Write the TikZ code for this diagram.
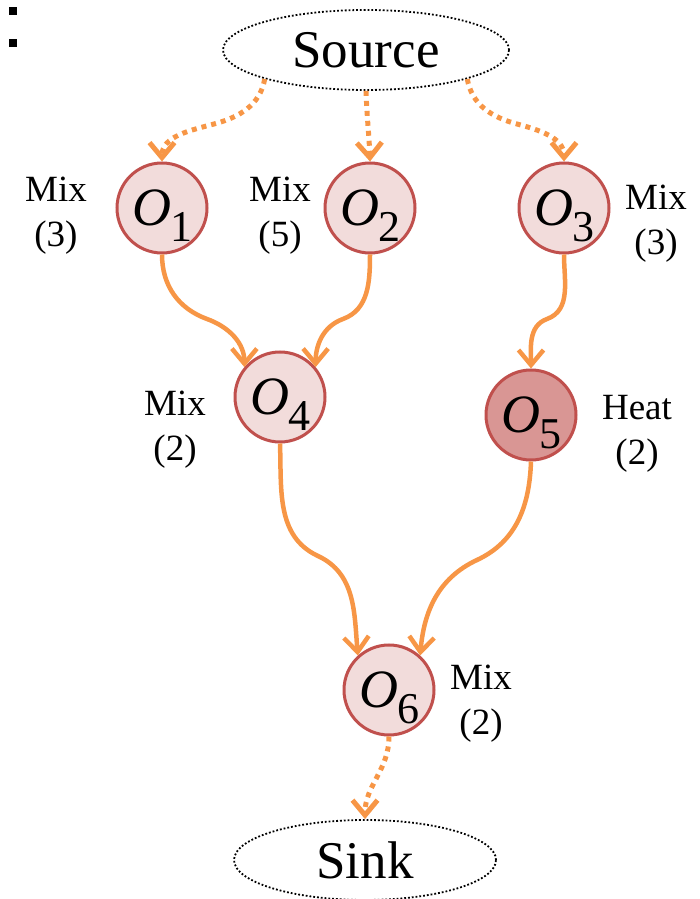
\documentclass[tikz,border=0pt]{standalone}
\usepackage{fontspec}
\setmainfont{Liberation Serif}
\usetikzlibrary{arrows.meta, shapes.geometric}

\definecolor{flowc}{HTML}{F79646}
\definecolor{opline}{HTML}{C0504D}
\definecolor{opfill}{HTML}{F2DCDB}
\definecolor{heatfill}{HTML}{D99694}

% nom d'une operation : O italique + indice
\newcommand{\opname}[1]{{\fontsize{54}{54}\selectfont\textit{O}\kern-1pt\raisebox{-16pt}[0pt][0pt]{\fontsize{44}{44}\selectfont #1}}}

\begin{document}
\begin{tikzpicture}[x=1pt, y=1pt, >={Straight Barb[length=15pt, width=25pt]},
  op/.style={circle, draw=opline, line width=3pt, fill=opfill, minimum size=90pt, inner sep=0pt},
  terminal/.style={ellipse, draw=black, line width=1.8pt, dash pattern=on 1.8pt off 2pt, minimum height=80pt, inner sep=0pt, font=\fontsize{53}{53}\selectfont},
  lbl/.style={align=center, font=\fontsize{37}{45}\selectfont},
  flow/.style={->, draw=flowc, line width=4.5pt},
  dotflow/.style={->, draw=flowc, line width=5pt, dash pattern=on 5pt off 5pt}]

\useasboundingbox (0,0) rectangle (700,899);

% les deux petits carres en haut a gauche
\fill (9,884) rectangle (17,892);
\fill (9,852) rectangle (17,860);

% Source et Sink
\node[terminal, minimum width=286pt] (Src) at (366,849) {Source};
\node[terminal, minimum width=262pt] (Snk) at (365,39) {Sink};

% Les operations
\foreach \n/\x/\y in {1/162/691, 2/370/691, 3/564/691, 4/280/502, 6/389/209}
\node[op] (O\n) at (\x,\y) {\opname{\n}};
\node[op, fill=heatfill] (O5) at (531,484) {\opname{5}};

% Les etiquettes (type, duree)
\foreach \n/\x/\y/\kind/\k in {1/56/683/Mix/3, 2/280/683/Mix/5, 3/656/675/Mix/3,
                               4/175/469/Mix/2, 5/637/465/Heat/2, 6/481/195/Mix/2}
\node[lbl] (L\n) at (\x,\y) {\kind\\(\k)};

% points de passage des courbes
\coordinate (mS1) at (214,775);
\coordinate (mS3) at (517,775);
\coordinate (m14) at (207,580);
\coordinate (m24) at (343,580);
\coordinate (m35) at (547,580);
\coordinate (m46) at (318,343);
\coordinate (m56) at (477,339);

% Source vers les premieres operations
\draw[dotflow] (Src.196) to[out=-100, in=15] (mS1) to[out=195, in=90] (O1.north);
\draw[dotflow] (Src.south) to[out=-88, in=92] (O2.north);
\draw[dotflow] (Src.344) to[out=-80, in=165] (mS3) to[out=-15, in=90] (O3.north);

% Les dependances entre operations
\draw[flow] (O1.south) to[out=-90, in=160] (m14) to[out=-20, in=90] (O4.140);
\draw[flow] (O2.south) to[out=-90, in=20] (m24) to[out=200, in=90] (O4.40);
\draw[flow] (O3.south) to[out=-90, in=20] (m35) to[out=200, in=90] (O5.north);
\draw[flow] (O4.south) to[out=-88, in=155] (m46) to[out=-25, in=95] (O6.132);
\draw[flow] (O5.south) to[out=-92, in=25] (m56) to[out=205, in=85] (O6.48);

% Vers le Sink
\draw[dotflow] (O6.south) to[out=-90, in=90] (Snk.north);

\end{tikzpicture}
\end{document}
